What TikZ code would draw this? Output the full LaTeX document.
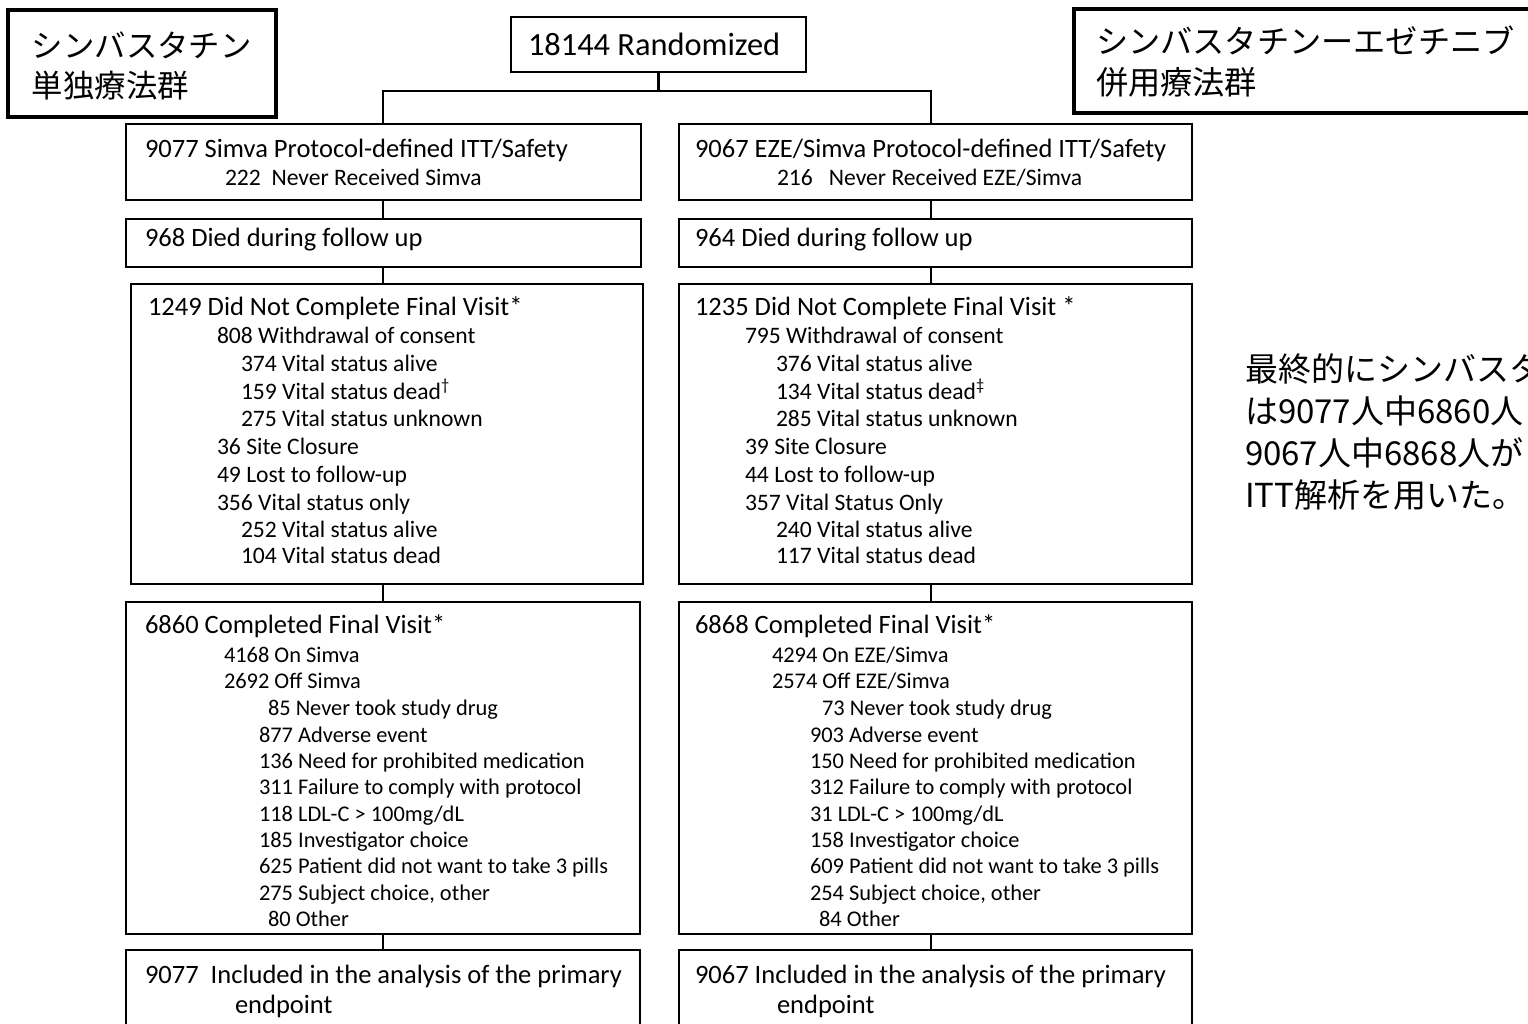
\documentclass[tikz,border=0pt]{standalone}
\usepackage{fontspec}
\setmainfont{Carlito}
\newfontfamily\jpfont{Noto Sans CJK JP}
\tikzset{
  box/.style={draw=black, line width=1.2pt, inner sep=0pt},
  labelbox/.style={draw=black, line width=2pt, inner sep=0pt},
  conn/.style={draw=black, line width=1.2pt},
  txt/.style={anchor=base west, inner sep=0pt, outer sep=0pt},
  ttl/.style={txt, font=\fontsize{13.25}{15}\selectfont},
  bod/.style={txt, font=\fontsize{11.2}{13}\selectfont},
  bodc/.style={txt, font=\fontsize{11.8}{13}\selectfont},
  big/.style={txt, font=\fontsize{16.2}{19}\selectfont},
  jlabel/.style={txt, font=\jpfont\fontsize{15.7}{18}\selectfont},
  jlabelr/.style={txt, font=\jpfont\fontsize{16.1}{18}\selectfont},
  jnote/.style={txt, font=\jpfont\fontsize{16.5}{20}\selectfont},
}
\newcommand{\mkbox}[6]{\node[#6, minimum width={(#4-#2)*0.5pt}, minimum height={(#5-#3)*0.5pt}] (#1) at ({(#2+#4)/2},{(#3+#5)/2}) {};}
\begin{document}
\begin{tikzpicture}[x=0.5pt, y=-0.5pt]
\clip (0,0) rectangle (1528,1024);
\fill[white] (0,0) rectangle (1528,1024);

% label boxes
\mkbox{labL}{8}{10}{276}{117}{labelbox}
\mkbox{labR}{1074}{9}{1545}{113}{labelbox}
\node[jlabel] (labL1) at (32,57) {シンバスタチン};
\node[jlabel] (labL2) at (32,97) {単独療法群};
\node[jlabelr] (labR1) at (1096,53) {シンバスタチンーエゼチニブ};
\node[jlabelr] (labR2) at (1096,94) {併用療法群};

% randomized
\mkbox{rand}{511}{17}{806}{72}{box}
\node[big] (randt) at (528,55) {18144 Randomized};

% boxes
\mkbox{AL}{126}{124}{641}{200}{box}
\mkbox{AR}{679}{124}{1192}{200}{box}
\mkbox{BL}{126}{219}{641}{267}{box}
\mkbox{BR}{679}{219}{1192}{267}{box}
\mkbox{CL}{131}{284}{643}{584}{box}
\mkbox{CR}{679}{284}{1192}{584}{box}
\mkbox{DL}{126}{602}{640}{934}{box}
\mkbox{DR}{679}{602}{1192}{934}{box}
\mkbox{EL}{126}{950}{640}{1045}{box}
\mkbox{ER}{679}{950}{1192}{1045}{box}

% connectors
\coordinate (split) at (658.5,91);
\coordinate (xL) at (383,0);
\coordinate (xR) at (931,0);
\draw[conn] (rand.south) -- (split);
\draw[conn] (split) -| (xL |- AL.north);
\draw[conn] (split) -| (xR |- AR.north);
\draw[conn] (xL |- AL.south) -- (xL |- BL.north);
\draw[conn] (xL |- BL.south) -- (xL |- CL.north);
\draw[conn] (xL |- CL.south) -- (xL |- DL.north);
\draw[conn] (xL |- DL.south) -- (xL |- EL.north);
\draw[conn] (xR |- AR.south) -- (xR |- BR.north);
\draw[conn] (xR |- BR.south) -- (xR |- CR.north);
\draw[conn] (xR |- CR.south) -- (xR |- DR.north);
\draw[conn] (xR |- DR.south) -- (xR |- ER.north);

% box A
\node[ttl] (a1) at (145,157) {9077 Simva Protocol-defined ITT/Safety};
\node[bodc] (a2) at (225,185) {222\ \ Never Received Simva};
\node[ttl] (a3) at (695,157) {9067 EZE/Simva Protocol-defined ITT/Safety};
\node[bodc] (a4) at (777,185) {216\ \ \ Never Received EZE/Simva};

% box B
\node[ttl] (b1) at (145,246) {968 Died during follow up};
\node[ttl] (b2) at (695,246) {964 Died during follow up};

% box C left
\node[ttl] (c1) at (148,315) {1249 Did Not Complete Final Visit*};
\node[bodc] (c2) at (217,343) {808 Withdrawal of consent};
\node[bodc] (c3) at (241,371) {374 Vital status alive};
\node[bodc] (c4) at (241,399) {159 Vital status dead\textsuperscript{†}};
\node[bodc] (c5) at (241,426) {275 Vital status unknown};
\node[bodc] (c6) at (217,454) {36 Site Closure};
\node[bodc] (c7) at (217,482) {49 Lost to follow-up};
\node[bodc] (c8) at (217,510) {356 Vital status only};
\node[bodc] (c9) at (241,537) {252 Vital status alive};
\node[bodc] (c10) at (241,563) {104 Vital status dead};

% box C right
\node[ttl] (r1) at (695,315) {1235 Did Not Complete Final Visit *};
\node[bodc] (r2) at (745,343) {795 Withdrawal of consent};
\node[bodc] (r3) at (776,371) {376 Vital status alive};
\node[bodc] (r4) at (776,399) {134 Vital status dead\textsuperscript{‡}};
\node[bodc] (r5) at (776,426) {285 Vital status unknown};
\node[bodc] (r6) at (745,454) {39 Site Closure};
\node[bodc] (r7) at (745,482) {44 Lost to follow-up};
\node[bodc] (r8) at (745,510) {357 Vital Status Only};
\node[bodc] (r9) at (776,537) {240 Vital status alive};
\node[bodc] (r10) at (776,563) {117 Vital status dead};

% box D left
\node[ttl] (d1) at (145,633) {6860 Completed Final Visit*};
\node[bod] (d2) at (224,662) {4168 On Simva};
\node[bod] (d3) at (224,688) {2692 Off Simva};
\node[bod] (d4) at (268,715) {85 Never took study drug};
\node[bod] (d5) at (259,742) {877 Adverse event};
\node[bod] (d6) at (259,768) {136 Need for prohibited medication};
\node[bod] (d7) at (259,794) {311 Failure to comply with protocol};
\node[bod] (d8) at (259,821) {118 LDL-C > 100mg/dL};
\node[bod] (d9) at (259,847) {185 Investigator choice};
\node[bod] (d10) at (259,873) {625 Patient did not want to take 3 pills};
\node[bod] (d11) at (259,900) {275 Subject choice, other};
\node[bod] (d12) at (268,926) {80 Other};

% box D right
\node[ttl] (s1) at (695,633) {6868 Completed Final Visit*};
\node[bod] (s2) at (772,662) {4294 On EZE/Simva};
\node[bod] (s3) at (772,688) {2574 Off EZE/Simva};
\node[bod] (s4) at (822,715) {73 Never took study drug};
\node[bod] (s5) at (810,742) {903 Adverse event};
\node[bod] (s6) at (810,768) {150 Need for prohibited medication};
\node[bod] (s7) at (810,794) {312 Failure to comply with protocol};
\node[bod] (s8) at (810,821) {31 LDL-C > 100mg/dL};
\node[bod] (s9) at (810,847) {158 Investigator choice};
\node[bod] (s10) at (810,873) {609 Patient did not want to take 3 pills};
\node[bod] (s11) at (810,900) {254 Subject choice, other};
\node[bod] (s12) at (819,926) {84 Other};

% box E
\node[ttl] (e1) at (145,983) {9077\ \ Included in the analysis of the primary};
\node[ttl] (e2) at (235,1013) {endpoint};
\node[ttl] (e3) at (695,983) {9067 Included in the analysis of the primary};
\node[ttl] (e4) at (777,1013) {endpoint};

% note
\node[jnote] (n1) at (1245,381) {最終的にシンバスタ};
\node[jnote] (n2) at (1245,423) {は9077人中6860人};
\node[jnote] (n3) at (1245,465) {9067人中6868人が};
\node[jnote] (n4) at (1245,507) {ITT解析を用いた。};
\end{tikzpicture}
\end{document}
